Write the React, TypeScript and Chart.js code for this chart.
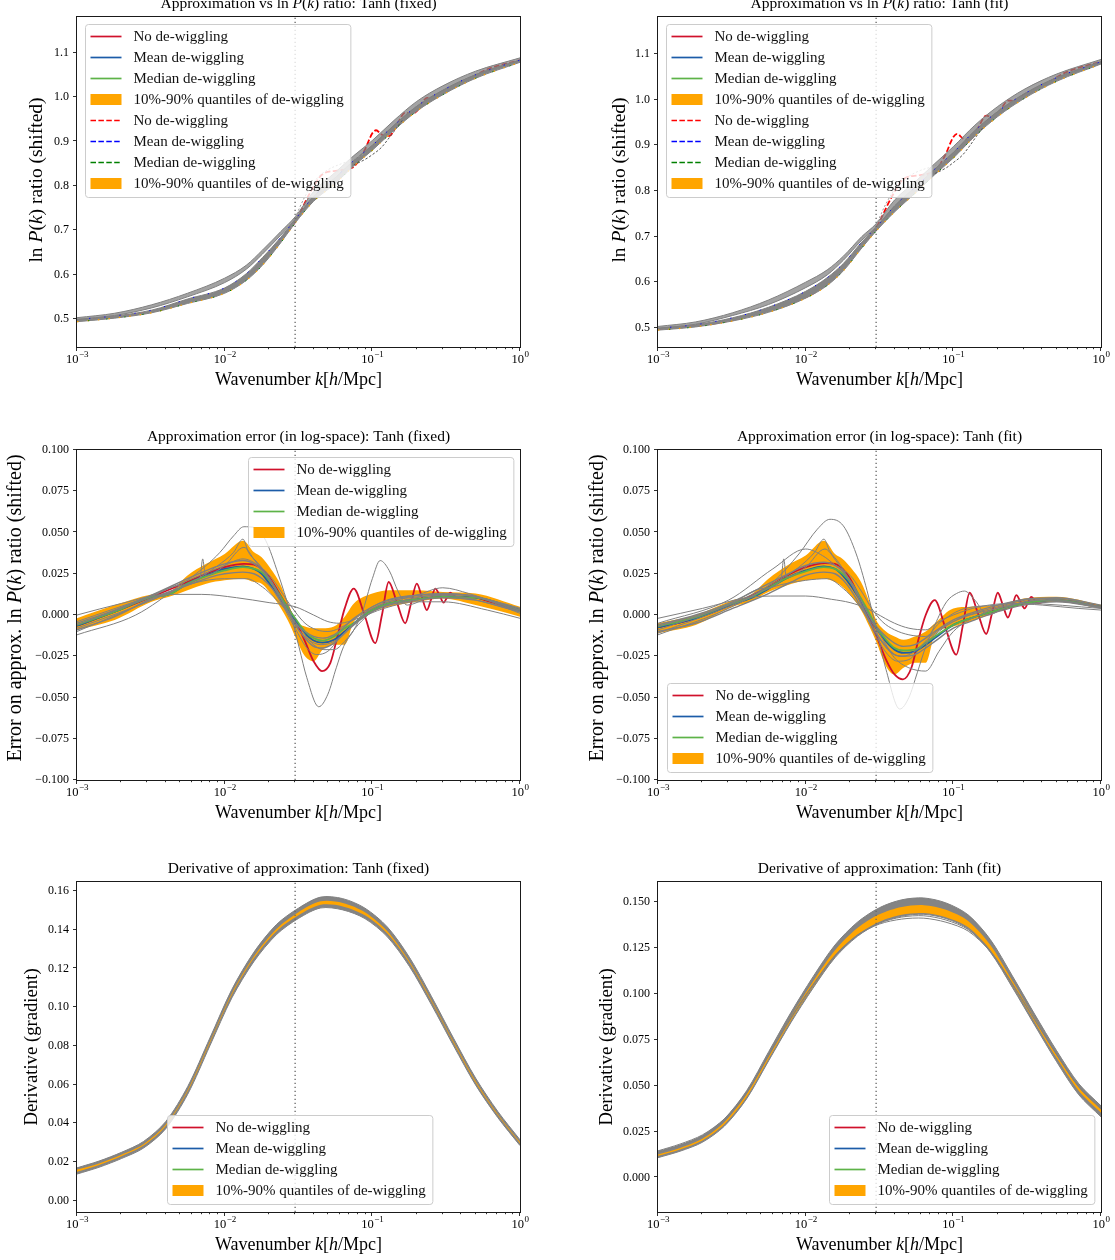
import React, { useEffect, useRef } from 'react';
import { Chart, registerables } from 'chart.js';

Chart.register(...registerables);

const FONT = '"Liberation Serif", "DejaVu Serif", "Times New Roman", serif';
const RED = '#d0112b';
const BLUE = '#1c5ca8';
const GREEN = '#5db348';
const ORANGE = '#ffa500';
const GRAY = '#808080';
const K_VLINE = 0.03;

// x-axis ticks
const X_MAJOR = [0.001, 0.01, 0.1, 1];
const X_MAJOR_EXP = ['\u22123', '\u22122', '\u22121', '0'];
const X_MINOR_MULT = [2, 3, 4, 5, 6, 7, 8, 9];

const LEGEND_LABELS = ['No de-wiggling', 'Mean de-wiggling', 'Median de-wiggling', '10%-90% quantiles of de-wiggling'];

type Pt = [number, number];

// ---------------- Row 1: ln P(k) ratio ----------------
const kRatio = [0.001, 0.0018, 0.0032, 0.0056, 0.01, 0.014, 0.018, 0.024, 0.03, 0.04, 0.056, 0.075, 0.1, 0.14, 0.2, 0.3, 0.5, 1.0];
const p1Lo = [0.494, 0.502, 0.514, 0.535, 0.558, 0.587, 0.621, 0.672, 0.716, 0.765, 0.805, 0.845, 0.880, 0.925, 0.968, 1.005, 1.042, 1.078];
const p1LoTop = [0.499, 0.507, 0.520, 0.545, 0.570, 0.602, 0.638, 0.684, 0.724, 0.776, 0.818, 0.857, 0.891, 0.936, 0.979, 1.015, 1.050, 1.083];
const p1HiBot = [0.499, 0.508, 0.525, 0.550, 0.582, 0.612, 0.646, 0.689, 0.724, 0.776, 0.818, 0.857, 0.891, 0.936, 0.979, 1.015, 1.050, 1.083];
const p1Hi = [0.503, 0.513, 0.532, 0.558, 0.592, 0.621, 0.655, 0.697, 0.730, 0.787, 0.830, 0.868, 0.902, 0.947, 0.990, 1.025, 1.058, 1.088];

const p2Lo = [0.495, 0.502, 0.515, 0.534, 0.565, 0.593, 0.625, 0.675, 0.712, 0.754, 0.797, 0.836, 0.872, 0.920, 0.963, 1.002, 1.040, 1.078];
const p2LoTop = [0.499, 0.507, 0.522, 0.545, 0.580, 0.610, 0.641, 0.688, 0.720, 0.767, 0.810, 0.848, 0.884, 0.932, 0.974, 1.012, 1.048, 1.083];
const p2HiBot = [0.499, 0.508, 0.527, 0.551, 0.588, 0.616, 0.648, 0.692, 0.720, 0.767, 0.810, 0.848, 0.884, 0.932, 0.974, 1.012, 1.048, 1.083];
const p2Hi = [0.503, 0.513, 0.533, 0.561, 0.600, 0.627, 0.657, 0.700, 0.728, 0.780, 0.822, 0.860, 0.897, 0.944, 0.985, 1.022, 1.056, 1.088];

const lnRatioData: Pt[] = [[0.001, 0.497], [0.0018, 0.5045], [0.0032, 0.517], [0.0056, 0.540], [0.01, 0.567], [0.014, 0.597], [0.018, 0.631], [0.024, 0.679], [0.03, 0.719], [0.038, 0.785], [0.046, 0.826], [0.058, 0.834], [0.068, 0.838], [0.075, 0.843], [0.088, 0.878], [0.1, 0.918], [0.106, 0.925], [0.116, 0.915], [0.13, 0.912], [0.147, 0.938], [0.167, 0.965], [0.183, 0.962], [0.2, 0.968], [0.216, 0.985], [0.234, 0.998], [0.26, 0.997], [0.3, 1.01], [0.337, 1.018], [0.4, 1.03], [0.6, 1.062], [1.0, 1.083]];

const p1GrayDashA: Pt[] = [[0.075, 0.847], [0.09, 0.860], [0.1, 0.870], [0.115, 0.886], [0.13, 0.908], [0.145, 0.929], [0.16, 0.948]];
const p1GrayDashB: Pt[] = [[0.03, 0.728], [0.035, 0.776], [0.042, 0.816], [0.05, 0.836], [0.06, 0.848], [0.075, 0.86], [0.09, 0.874]];
const p2GrayDashA: Pt[] = [[0.075, 0.838], [0.09, 0.851], [0.1, 0.862], [0.115, 0.878], [0.13, 0.900], [0.145, 0.922], [0.16, 0.94]];
const p2GrayDashB: Pt[] = [[0.03, 0.725], [0.035, 0.772], [0.042, 0.812], [0.05, 0.832], [0.06, 0.845], [0.075, 0.855], [0.09, 0.868]];

// ---------------- Row 2: approximation error ----------------
const kErr = [0.001, 0.0018, 0.0032, 0.0042, 0.0056, 0.0075, 0.01, 0.0133, 0.0158, 0.0178, 0.0205, 0.0237, 0.027, 0.03, 0.035, 0.04, 0.046, 0.055, 0.065, 0.075, 0.1, 0.13, 0.2, 0.3, 0.5, 1.0];

const p3OrangeLo = [-0.009, -0.003, 0.008, 0.011, 0.015, 0.019, 0.021, 0.022, 0.020, 0.019, 0.013, 0.005, -0.004, -0.013, -0.025, -0.028, -0.021, -0.018, -0.018, -0.004, 0.002, 0.005, 0.008, 0.010, 0.006, -0.001];
const p3OrangeHi = [-0.002, 0.006, 0.0125, 0.014, 0.024, 0.031, 0.037, 0.045, 0.038, 0.035, 0.028, 0.019, 0.007, -0.003, -0.007, -0.008, -0.008, -0.007, -0.001, 0.007, 0.013, 0.015, 0.015, 0.014, 0.013, 0.005];
const p3Blue = [-0.0065, 0.002, 0.011, 0.0125, 0.019, 0.024, 0.028, 0.0295, 0.028, 0.025, 0.018, 0.010, 0.003, -0.003, -0.011, -0.0155, -0.0168, -0.015, -0.010, -0.005, 0.003, 0.007, 0.0095, 0.011, 0.0105, 0.003];
const p3Green = [-0.006, 0.002, 0.011, 0.0125, 0.019, 0.0235, 0.027, 0.029, 0.028, 0.026, 0.020, 0.012, 0.004, -0.002, -0.010, -0.014, -0.0155, -0.013, -0.008, -0.005, 0.003, 0.007, 0.0095, 0.011, 0.0105, 0.003];
const p3Red: Pt[] = [[0.001, -0.0065], [0.0018, 0.002], [0.0032, 0.011], [0.0056, 0.02], [0.0075, 0.025], [0.01, 0.029], [0.0135, 0.031], [0.0158, 0.0305], [0.0178, 0.028], [0.02, 0.023], [0.025, 0.009], [0.03, -0.003], [0.035, -0.016], [0.04, -0.028], [0.0456, -0.034], [0.052, -0.029], [0.0584, -0.012], [0.065, 0.004], [0.0748, 0.016], [0.0885, 0.0], [0.1047, -0.017], [0.1162, 0.0], [0.129, 0.020], [0.1468, 0.0075], [0.167, -0.005], [0.1828, 0.007], [0.2, 0.019], [0.2163, 0.011], [0.234, 0.003], [0.25, 0.0095], [0.267, 0.016], [0.285, 0.012], [0.304, 0.0075], [0.32, 0.0105], [0.337, 0.0135], [0.355, 0.012], [0.374, 0.0105], [0.45, 0.0115], [0.6, 0.0085], [1.0, 0.003]];

const g3a: Pt[] = [[0.001, 0.0], [0.002, 0.007], [0.004, 0.0125], [0.007, 0.0125], [0.012, 0.0105], [0.02, 0.0075], [0.03, 0.005], [0.04, 0.0], [0.05, -0.004], [0.06, -0.005], [0.08, -0.002], [0.12, 0.004], [0.2, 0.008], [0.3, 0.008], [0.6, 0.003], [1.0, -0.002]];
const g3b: Pt[] = [[0.001, -0.012], [0.0025, 0.0], [0.005, 0.018], [0.0075, 0.03], [0.0093, 0.038], [0.0115, 0.048], [0.0135, 0.0535], [0.016, 0.053], [0.019, 0.045], [0.023, 0.025], [0.0279, 0.001], [0.032, -0.02], [0.036, -0.038], [0.0434, -0.0556], [0.05, -0.048], [0.057, -0.032], [0.064, -0.019], [0.075, -0.009], [0.085, 0.001], [0.1, 0.022], [0.113, 0.033], [0.13, 0.027], [0.15, 0.014], [0.172, 0.006], [0.22, 0.009], [0.3, 0.013], [0.5, 0.011], [1.0, 0.001]];
const g3c: Pt[] = [[0.001, -0.008], [0.003, 0.008], [0.006, 0.02], [0.009, 0.03], [0.0115, 0.038], [0.0133, 0.046], [0.0145, 0.038], [0.017, 0.031], [0.021, 0.02], [0.025, 0.007], [0.03, -0.006], [0.037, -0.015], [0.045, -0.018], [0.055, -0.016], [0.07, -0.008], [0.1, 0.005], [0.2, 0.012], [0.4, 0.0125], [1.0, 0.003]];
const g3d: Pt[] = [[0.001, -0.01], [0.003, 0.008], [0.006, 0.019], [0.01, 0.022], [0.014, 0.022], [0.018, 0.017], [0.022, 0.01], [0.026, 0.003], [0.03, -0.004], [0.035, -0.012], [0.04, -0.018], [0.047, -0.021], [0.055, -0.021], [0.065, -0.016], [0.08, -0.006], [0.1, 0.002], [0.15, 0.008], [0.3, 0.012], [1.0, 0.002]];
const g3e: Pt[] = [[0.001, -0.004], [0.003, 0.011], [0.006, 0.022], [0.01, 0.030], [0.0133, 0.034], [0.017, 0.030], [0.021, 0.022], [0.025, 0.012], [0.03, 0.002], [0.035, -0.005], [0.042, -0.009], [0.05, -0.01], [0.06, -0.008], [0.08, -0.001], [0.12, 0.007], [0.2, 0.012], [0.3, 0.0165], [0.45, 0.013], [0.7, 0.007], [1.0, 0.002]];
const g3g: Pt[] = [[0.001, -0.009], [0.0018, -0.001], [0.0032, 0.01], [0.0056, 0.018], [0.008, 0.023], [0.01, 0.025], [0.0133, 0.026], [0.0158, 0.025], [0.018, 0.022], [0.021, 0.016], [0.024, 0.008], [0.027, 0.001], [0.03, -0.006], [0.035, -0.014], [0.04, -0.019], [0.046, -0.02], [0.055, -0.017], [0.065, -0.011], [0.075, -0.006], [0.1, 0.002], [0.13, 0.006], [0.2, 0.009], [0.3, 0.0105], [0.5, 0.009], [1.0, 0.002]];
const g3h: Pt[] = [[0.001, -0.005], [0.0018, 0.003], [0.0032, 0.012], [0.0056, 0.022], [0.008, 0.028], [0.01, 0.031], [0.0133, 0.033], [0.0158, 0.031], [0.018, 0.027], [0.021, 0.019], [0.024, 0.010], [0.027, 0.002], [0.03, -0.005], [0.035, -0.010], [0.04, -0.013], [0.046, -0.014], [0.055, -0.012], [0.065, -0.007], [0.075, -0.002], [0.1, 0.005], [0.13, 0.009], [0.2, 0.012], [0.3, 0.013], [0.5, 0.011], [1.0, 0.004]];
const g3i: Pt[] = [[0.001, -0.006], [0.003, 0.01], [0.005, 0.018], [0.0068, 0.022], [0.0071, 0.034], [0.0074, 0.024], [0.01, 0.03], [0.0135, 0.041], [0.016, 0.033], [0.02, 0.022], [0.025, 0.005], [0.03, -0.008], [0.036, -0.02], [0.042, -0.024], [0.05, -0.022], [0.06, -0.014], [0.075, -0.005], [0.1, 0.004], [0.2, 0.011], [0.4, 0.012], [1.0, 0.003]];

const p4OrangeLo = [-0.011, -0.006, 0.005, 0.008, 0.014, 0.018, 0.021, 0.022, 0.020, 0.017, 0.011, 0.003, -0.007, -0.016, -0.031, -0.036, -0.032, -0.029, -0.029, -0.012, -0.007, -0.004, 0.002, 0.006, 0.008, 0.004];
const p4OrangeHi = [-0.005, 0.0, 0.009, 0.012, 0.022, 0.030, 0.036, 0.045, 0.037, 0.034, 0.028, 0.020, 0.008, -0.003, -0.010, -0.013, -0.015, -0.013, -0.010, -0.005, 0.004, 0.005, 0.006, 0.010, 0.011, 0.006];
const p4Blue = [-0.0075, -0.002, 0.0065, 0.010, 0.016, 0.0225, 0.027, 0.0295, 0.028, 0.024, 0.017, 0.008, -0.001, -0.008, -0.016, -0.021, -0.023, -0.022, -0.018, -0.014, -0.006, -0.002, 0.003, 0.007, 0.009, 0.005];
const p4Green = [-0.007, -0.0015, 0.007, 0.0105, 0.0165, 0.0225, 0.0265, 0.029, 0.028, 0.025, 0.019, 0.010, 0.001, -0.007, -0.015, -0.020, -0.0215, -0.021, -0.017, -0.013, -0.006, -0.002, 0.003, 0.007, 0.009, 0.005];
const p4Red: Pt[] = [[0.001, -0.0075], [0.0018, -0.002], [0.0032, 0.0065], [0.0056, 0.017], [0.0075, 0.024], [0.01, 0.029], [0.0135, 0.0315], [0.0158, 0.031], [0.0178, 0.028], [0.02, 0.022], [0.025, 0.004], [0.03, -0.012], [0.035, -0.027], [0.04, -0.036], [0.0456, -0.039], [0.052, -0.032], [0.0584, -0.014], [0.065, 0.0], [0.0748, 0.009], [0.0885, -0.008], [0.1047, -0.024], [0.1162, -0.006], [0.129, 0.0135], [0.1468, 0.001], [0.167, -0.0115], [0.1828, 0.001], [0.2, 0.0135], [0.2163, 0.006], [0.234, -0.0015], [0.25, 0.005], [0.267, 0.012], [0.285, 0.008], [0.304, 0.004], [0.32, 0.0075], [0.337, 0.011], [0.355, 0.009], [0.374, 0.007], [0.45, 0.0095], [0.6, 0.0085], [1.0, 0.005]];

const g4a: Pt[] = [[0.001, -0.002], [0.002, 0.004], [0.004, 0.0105], [0.0065, 0.0115], [0.01, 0.0115], [0.015, 0.0095], [0.02, 0.0075], [0.026, 0.004], [0.03, 0.001], [0.04, -0.005], [0.05, -0.008], [0.065, -0.009], [0.08, -0.004], [0.1, 0.0], [0.15, 0.005], [0.25, 0.007], [0.4, 0.006], [0.7, 0.004], [1.0, 0.003]];
const g4b: Pt[] = [[0.001, -0.012], [0.003, 0.004], [0.006, 0.02], [0.009, 0.037], [0.012, 0.052], [0.0146, 0.058], [0.018, 0.054], [0.022, 0.037], [0.026, 0.015], [0.03, -0.008], [0.035, -0.033], [0.0434, -0.057], [0.05, -0.05], [0.057, -0.035], [0.064, -0.021], [0.075, -0.006], [0.09, 0.008], [0.105, 0.013], [0.119, 0.0145], [0.14, 0.009], [0.17, 0.0], [0.22, 0.004], [0.3, 0.008], [0.5, 0.01], [1.0, 0.005]];
const g4c: Pt[] = [[0.001, -0.009], [0.003, 0.006], [0.006, 0.019], [0.009, 0.029], [0.0115, 0.038], [0.0133, 0.046], [0.0145, 0.039], [0.017, 0.031], [0.021, 0.017], [0.025, 0.003], [0.03, -0.011], [0.037, -0.022], [0.045, -0.025], [0.055, -0.022], [0.07, -0.013], [0.1, -0.004], [0.2, 0.005], [0.4, 0.01], [1.0, 0.005]];
const g4d: Pt[] = [[0.001, -0.011], [0.003, 0.005], [0.006, 0.017], [0.01, 0.021], [0.014, 0.022], [0.018, 0.016], [0.022, 0.008], [0.026, -0.001], [0.03, -0.008], [0.035, -0.018], [0.04, -0.026], [0.05, -0.032], [0.065, -0.034], [0.08, -0.022], [0.1, -0.01], [0.15, 0.0], [0.3, 0.007], [1.0, 0.004]];
const g4e: Pt[] = [[0.001, -0.005], [0.003, 0.009], [0.006, 0.028], [0.01, 0.040], [0.013, 0.036], [0.016, 0.03], [0.02, 0.024], [0.024, 0.014], [0.028, 0.004], [0.033, -0.004], [0.04, -0.009], [0.05, -0.012], [0.065, -0.013], [0.08, -0.005], [0.12, 0.004], [0.2, 0.006], [0.35, 0.01], [0.6, 0.008], [1.0, 0.004]];
const g4g: Pt[] = [[0.001, -0.010], [0.0018, -0.005], [0.0032, 0.004], [0.0056, 0.013], [0.008, 0.020], [0.01, 0.024], [0.0133, 0.026], [0.0158, 0.025], [0.018, 0.021], [0.021, 0.013], [0.024, 0.004], [0.027, -0.004], [0.03, -0.011], [0.035, -0.019], [0.04, -0.024], [0.046, -0.025], [0.055, -0.024], [0.065, -0.020], [0.075, -0.016], [0.1, -0.008], [0.13, -0.004], [0.2, 0.002], [0.3, 0.006], [0.5, 0.008], [1.0, 0.0045]];
const g4h: Pt[] = [[0.001, -0.006], [0.0018, 0.0], [0.0032, 0.008], [0.0056, 0.019], [0.008, 0.026], [0.01, 0.030], [0.0133, 0.032], [0.0158, 0.030], [0.018, 0.026], [0.021, 0.018], [0.024, 0.008], [0.027, -0.001], [0.03, -0.007], [0.035, -0.013], [0.04, -0.017], [0.046, -0.019], [0.055, -0.018], [0.065, -0.014], [0.075, -0.010], [0.1, -0.003], [0.13, 0.001], [0.2, 0.006], [0.3, 0.0095], [0.5, 0.0105], [1.0, 0.006]];
const g4i: Pt[] = [[0.001, -0.007], [0.003, 0.006], [0.005, 0.016], [0.0068, 0.021], [0.0071, 0.034], [0.0074, 0.023], [0.01, 0.029], [0.0135, 0.040], [0.016, 0.033], [0.02, 0.02], [0.025, 0.002], [0.03, -0.013], [0.036, -0.024], [0.042, -0.028], [0.05, -0.027], [0.06, -0.02], [0.075, -0.012], [0.1, -0.004], [0.2, 0.004], [0.4, 0.009], [1.0, 0.005]];

// ---------------- Row 3: derivative ----------------
const kDer = [0.001, 0.00141, 0.002, 0.00282, 0.00398, 0.00562, 0.00794, 0.0112, 0.0158, 0.0224, 0.0316, 0.0447, 0.0631, 0.0891, 0.126, 0.178, 0.251, 0.355, 0.501, 0.708, 1.0];
const p5Center = [0.0155, 0.0190, 0.0235, 0.0290, 0.0390, 0.0570, 0.0820, 0.1070, 0.1260, 0.1400, 0.1485, 0.1540, 0.1532, 0.1485, 0.1390, 0.1235, 0.1035, 0.0820, 0.0615, 0.0445, 0.0300];
const p5Upper = [0.0170, 0.0205, 0.0250, 0.0306, 0.0408, 0.0590, 0.0840, 0.1092, 0.1284, 0.1426, 0.1511, 0.1568, 0.1560, 0.1511, 0.1415, 0.1258, 0.1056, 0.0839, 0.0633, 0.0461, 0.0315];
const p5Lower = [0.0138, 0.0173, 0.0218, 0.0272, 0.0371, 0.0550, 0.0800, 0.1048, 0.1236, 0.1374, 0.1458, 0.1512, 0.1502, 0.1457, 0.1364, 0.1211, 0.1013, 0.0800, 0.0597, 0.0429, 0.0285];
const p5OrLo = [0.0150, 0.0185, 0.0230, 0.0285, 0.0385, 0.0565, 0.0815, 0.1064, 0.1253, 0.1391, 0.1474, 0.1528, 0.1520, 0.1474, 0.1381, 0.1229, 0.1030, 0.0815, 0.0610, 0.0441, 0.0296];
const p5OrHi = [0.0161, 0.0193, 0.0238, 0.0292, 0.0392, 0.0572, 0.0822, 0.1072, 0.1262, 0.1403, 0.1490, 0.1546, 0.1538, 0.1490, 0.1393, 0.1237, 0.1037, 0.0822, 0.0617, 0.0447, 0.0303];

const p6Center = [0.0125, 0.0160, 0.0210, 0.0300, 0.0450, 0.0660, 0.0870, 0.1060, 0.1230, 0.1350, 0.1425, 0.1465, 0.1475, 0.1450, 0.1390, 0.1260, 0.1065, 0.0860, 0.0660, 0.0480, 0.0360];
const p6Upper = [0.0142, 0.0177, 0.0228, 0.0320, 0.0472, 0.0685, 0.0898, 0.1092, 0.1266, 0.1390, 0.1469, 0.1512, 0.1522, 0.1495, 0.1430, 0.1296, 0.1098, 0.0890, 0.0690, 0.0510, 0.0390];
const p6Lower = [0.0108, 0.0143, 0.0192, 0.0280, 0.0428, 0.0636, 0.0843, 0.1030, 0.1197, 0.1313, 0.1385, 0.1423, 0.1433, 0.1410, 0.1354, 0.1227, 0.1035, 0.0830, 0.0630, 0.0450, 0.0330];
const p6OrLo = [0.0118, 0.0153, 0.0202, 0.0290, 0.0438, 0.0646, 0.0853, 0.1040, 0.1206, 0.1322, 0.1393, 0.1431, 0.1440, 0.1417, 0.1362, 0.1238, 0.1048, 0.0847, 0.0650, 0.0471, 0.0352];
const p6OrHi = [0.0125, 0.0161, 0.0211, 0.0302, 0.0453, 0.0664, 0.0875, 0.1066, 0.1237, 0.1358, 0.1433, 0.1473, 0.1483, 0.1458, 0.1397, 0.1266, 0.1071, 0.0867, 0.0668, 0.0490, 0.0372];
const p6LowA = [0.0145, 0.0182, 0.0232, 0.0320, 0.0465, 0.0668, 0.0870, 0.1050, 0.1210, 0.1320, 0.1380, 0.1407, 0.1412, 0.1390, 0.1342, 0.1230, 0.1053, 0.0860, 0.0670, 0.0495, 0.0375];
const p6LowB = [0.0137, 0.0174, 0.0224, 0.0312, 0.0458, 0.0663, 0.0865, 0.1046, 0.1206, 0.1318, 0.1385, 0.1418, 0.1425, 0.1402, 0.1350, 0.1234, 0.1055, 0.0860, 0.0668, 0.0492, 0.0372];

// ---------------- helpers ----------------
const zip = (k: number[], v: number[]) => k.map((x, i) => ({ x, y: v[i] }));
const pts = (a: Pt[]) => a.map(([x, y]) => ({ x, y }));
const NONE = 'rgba(0,0,0,0)';
const SMOOTH = { cubicInterpolationMode: 'default', tension: 0.3 };

const L = (data: any[], color: string, width: number, extra: any = {}) => ({ data, borderColor: color, borderWidth: width, fill: false, pointRadius: 0, ...extra });
const B = (lo: any[], hi: any[], fillColor: string, edge: string = NONE, edgeW = 1, extra: any = {}) => [
  { data: lo, borderColor: edge, borderWidth: edgeW, fill: false, pointRadius: 0, ...extra },
  { data: hi, borderColor: edge, borderWidth: edgeW, backgroundColor: fillColor, fill: '-1', pointRadius: 0, ...extra },
];
const VL = (y0: number, y1: number) => ({ data: [{ x: K_VLINE, y: y0 }, { x: K_VLINE, y: y1 }], borderColor: '#666', borderWidth: 1.3, borderDash: [1.3, 2.7], cubicInterpolationMode: 'default', tension: 0, fill: false, pointRadius: 0 });

type Seg = [string, boolean];
type LegendItem = { label: string; color: string; kind: 'line' | 'dash' | 'box' };
interface Spec {
  id: string; left: number; top: number;
  yMin: number; yMax: number; yStep: number; yFmt: (v: number) => string;
  title: Seg[]; ylabel: Seg[]; ylabelDx: number; ylabelDy: number; ylabelSize: number;
  legend: LegendItem[]; anchor: 'ul' | 'ur' | 'll' | 'lc' | 'lr';
  datasets: any[];
}

const XLABEL: Seg[] = [['Wavenumber ', false], ['k', true], ['[', false], ['h', true], ['/Mpc]', false]];
const YL_RATIO: Seg[] = [['ln ', false], ['P', true], ['(', false], ['k', true], [') ratio (shifted)', false]];
const YL_ERR: Seg[] = [['Error on approx. ln ', false], ['P', true], ['(', false], ['k', true], [') ratio (shifted)', false]];
const YL_DER: Seg[] = [['Derivative (gradient)', false]];
const titleRatio = (t: string): Seg[] => [['Approximation vs ln ', false], ['P', true], ['(', false], ['k', true], [') ratio: Tanh (' + t + ')', false]];

const LEG4: LegendItem[] = [
  { label: LEGEND_LABELS[0], color: RED, kind: 'line' },
  { label: LEGEND_LABELS[1], color: BLUE, kind: 'line' },
  { label: LEGEND_LABELS[2], color: GREEN, kind: 'line' },
  { label: LEGEND_LABELS[3], color: ORANGE, kind: 'box' },
];
const LEG8: LegendItem[] = [
  ...LEG4,
  { label: LEGEND_LABELS[0], color: '#ff0000', kind: 'dash' },
  { label: LEGEND_LABELS[1], color: '#0000ff', kind: 'dash' },
  { label: LEGEND_LABELS[2], color: '#008000', kind: 'dash' },
  { label: LEGEND_LABELS[3], color: ORANGE, kind: 'box' },
];

const minus = (s: string) => s.replace('-', '\u2212');

function ratioDatasets(lo: number[], loTop: number[], hiBot: number[], hi: number[], dashA: Pt[], dashB: Pt[], yMin: number, yMax: number) {
  return [
    L(pts(lnRatioData), '#ff0000', 1.8, { borderDash: [5.5, 2.4] }),
    ...B(zip(kRatio, lo), zip(kRatio, loTop), '#858585', GRAY, 1),
    ...B(zip(kRatio, hiBot), zip(kRatio, hi), 'rgba(128,128,128,0.72)', GRAY, 1),
    L(pts(dashA), '#555', 1, { borderDash: [2.5, 1.8] }),
    L(pts(dashB), '#999', 1, { borderDash: [2, 2] }),
    L(zip(kRatio, lo), ORANGE, 1.2, { borderDash: [1.5, 9] }),
    L(zip(kRatio, loTop), '#0000ff', 1, { borderDash: [1.2, 14], borderDashOffset: 3 }),
    L(zip(kRatio, lo), '#008000', 1, { borderDash: [1.2, 17], borderDashOffset: 7 }),
    VL(yMin, yMax),
  ];
}

function errDatasets(orLo: number[], orHi: number[], red: Pt[], blue: number[], green: number[], grays: Pt[][], bundles: Pt[][]) {
  return [
    ...B(zip(kErr, orLo), zip(kErr, orHi), ORANGE),
    L(pts(red), RED, 1.8),
    L(zip(kErr, blue), BLUE, 1.8),
    L(zip(kErr, green), GREEN, 1.8),
    ...bundles.map((g) => L(pts(g), GRAY, 1.4)),
    ...grays.map((g) => L(pts(g), GRAY, 1)),
    VL(-0.1, 0.1),
  ];
}

function derDatasets(center: number[], lower: number[], upper: number[], orLo: number[], orHi: number[], extra: number[][], yMin: number, yMax: number) {
  return [
    L(zip(kDer, center), RED, 1.6, SMOOTH),
    L(zip(kDer, center), BLUE, 1.6, SMOOTH),
    L(zip(kDer, center), GREEN, 1.6, SMOOTH),
    ...B(zip(kDer, lower), zip(kDer, upper), '#848484', GRAY, 1, SMOOTH),
    ...B(zip(kDer, orLo), zip(kDer, orHi), ORANGE, NONE, 1, SMOOTH),
    ...extra.map((e) => L(zip(kDer, e), GRAY, 1, SMOOTH)),
    VL(yMin, yMax),
  ];
}

const SPECS: Spec[] = [
  {
    id: 'p1', left: 77, top: 17, yMin: 0.437, yMax: 1.18, yStep: 0.1, yFmt: (v) => v.toFixed(1),
    title: titleRatio('fixed'), ylabel: YL_RATIO, ylabelDx: -40, ylabelDy: -2, ylabelSize: 19.5, legend: LEG8, anchor: 'ul',
    datasets: ratioDatasets(p1Lo, p1LoTop, p1HiBot, p1Hi, p1GrayDashA, p1GrayDashB, 0.437, 1.18),
  },
  {
    id: 'p2', left: 658, top: 17, yMin: 0.458, yMax: 1.181, yStep: 0.1, yFmt: (v) => v.toFixed(1),
    title: titleRatio('fit'), ylabel: YL_RATIO, ylabelDx: -38, ylabelDy: -2, ylabelSize: 19.5, legend: LEG8, anchor: 'ul',
    datasets: ratioDatasets(p2Lo, p2LoTop, p2HiBot, p2Hi, p2GrayDashA, p2GrayDashB, 0.458, 1.181),
  },
  {
    id: 'p3', left: 77, top: 450, yMin: -0.1, yMax: 0.1, yStep: 0.025, yFmt: (v) => minus(v.toFixed(3)),
    title: [['Approximation error (in log-space): Tanh (fixed)', false]], ylabel: YL_ERR, ylabelDx: -61, ylabelDy: -7, ylabelSize: 20, legend: LEG4, anchor: 'ur',
    datasets: errDatasets(p3OrangeLo, p3OrangeHi, p3Red, p3Blue, p3Green, [g3a, g3b, g3c, g3d, g3e, g3i], [g3g, g3h]),
  },
  {
    id: 'p4', left: 658, top: 450, yMin: -0.1, yMax: 0.1, yStep: 0.025, yFmt: (v) => minus(v.toFixed(3)),
    title: [['Approximation error (in log-space): Tanh (fit)', false]], ylabel: YL_ERR, ylabelDx: -60, ylabelDy: -7, ylabelSize: 20, legend: LEG4, anchor: 'll',
    datasets: errDatasets(p4OrangeLo, p4OrangeHi, p4Red, p4Blue, p4Green, [g4a, g4b, g4c, g4d, g4e, g4i], [g4g, g4h]),
  },
  {
    id: 'p5', left: 77, top: 882, yMin: -0.0058, yMax: 0.1646, yStep: 0.02, yFmt: (v) => v.toFixed(2),
    title: [['Derivative of approximation: Tanh (fixed)', false]], ylabel: YL_DER, ylabelDx: -45, ylabelDy: 0, ylabelSize: 18.7, legend: LEG4, anchor: 'lc',
    datasets: derDatasets(p5Center, p5Lower, p5Upper, p5OrLo, p5OrHi, [], -0.0058, 0.1646),
  },
  {
    id: 'p6', left: 658, top: 882, yMin: -0.0188, yMax: 0.1609, yStep: 0.025, yFmt: (v) => v.toFixed(3),
    title: [['Derivative of approximation: Tanh (fit)', false]], ylabel: YL_DER, ylabelDx: -51, ylabelDy: 0, ylabelSize: 18.7, legend: LEG4, anchor: 'lr',
    datasets: derDatasets(p6Center, p6Lower, p6Upper, p6OrLo, p6OrHi, [p6LowA, p6LowB], -0.0188, 0.1609),
  },
];

// ---------------- drawing helpers ----------------
function drawSegs(ctx: CanvasRenderingContext2D, segs: Seg[], cx: number, cy: number, size: number, rot = 0) {
  ctx.save();
  ctx.translate(cx, cy);
  if (rot) ctx.rotate(rot);
  const fonts = segs.map(([, it]) => `${it ? 'italic ' : ''}${size}px ${FONT}`);
  let total = 0;
  const ws = segs.map(([t], i) => {
    ctx.font = fonts[i];
    const w = ctx.measureText(t).width;
    total += w;
    return w;
  });
  let x = -total / 2;
  ctx.textBaseline = 'middle';
  ctx.textAlign = 'left';
  ctx.fillStyle = '#000';
  segs.forEach(([t], i) => {
    ctx.font = fonts[i];
    ctx.fillText(t, x, 0);
    x += ws[i];
  });
  ctx.restore();
}

function roundRectPath(ctx: CanvasRenderingContext2D, x: number, y: number, w: number, h: number, r: number) {
  ctx.beginPath();
  ctx.moveTo(x + r, y);
  ctx.lineTo(x + w - r, y);
  ctx.arcTo(x + w, y, x + w, y + r, r);
  ctx.lineTo(x + w, y + h - r);
  ctx.arcTo(x + w, y + h, x + w - r, y + h, r);
  ctx.lineTo(x + r, y + h);
  ctx.arcTo(x, y + h, x, y + h - r, r);
  ctx.lineTo(x, y + r);
  ctx.arcTo(x, y, x + r, y, r);
  ctx.closePath();
}

function drawLegend(ctx: CanvasRenderingContext2D, a: any, items: LegendItem[], anchor: string) {
  const fs = 15;
  const font = `${fs}px ${FONT}`;
  ctx.save();
  ctx.font = font;
  const tw = Math.max(...items.map((it) => ctx.measureText(it.label).width));
  const w = 5 + 31 + 12 + tw + 7;
  const h = 26 + 21 * (items.length - 1);
  let x0 = a.left + 8;
  let y0 = a.top + 7;
  if (anchor === 'ur') { x0 = a.right - 7 - w; y0 = a.top + 7; }
  if (anchor === 'll') { x0 = a.left + 9; y0 = a.bottom - 8 - h; }
  if (anchor === 'lc') { x0 = (a.left + a.right) / 2 + 1 - w / 2; y0 = a.bottom - 8 - h; }
  if (anchor === 'lr') { x0 = a.right - 7 - w; y0 = a.bottom - 8 - h; }
  x0 = Math.round(x0) + 0.5;
  y0 = Math.round(y0) + 0.5;
  roundRectPath(ctx, x0, y0, w, h, 3);
  ctx.fillStyle = 'rgba(255,255,255,0.8)';
  ctx.fill();
  ctx.strokeStyle = '#cccccc';
  ctx.lineWidth = 1;
  ctx.stroke();
  items.forEach((it, i) => {
    const cy = y0 + 12 + 21 * i;
    const hx = x0 + 5;
    if (it.kind === 'box') {
      ctx.fillStyle = it.color;
      ctx.fillRect(hx, cy - 5.5, 31, 11);
    } else {
      ctx.beginPath();
      ctx.setLineDash(it.kind === 'dash' ? [5.5, 2.4] : []);
      ctx.strokeStyle = it.color;
      ctx.lineWidth = 1.7;
      ctx.moveTo(hx, cy);
      ctx.lineTo(hx + 31, cy);
      ctx.stroke();
      ctx.setLineDash([]);
    }
    ctx.fillStyle = '#111';
    ctx.font = font;
    ctx.textBaseline = 'middle';
    ctx.textAlign = 'left';
    ctx.fillText(it.label, hx + 31 + 12, cy + 0.5);
  });
  ctx.restore();
}

function makeDecor(spec: Spec) {
  return {
    id: 'decor_' + spec.id,
    afterDatasetsDraw(chart: any) {
      const { ctx, chartArea: a } = chart;
      const xs = chart.scales.x;
      const ys = chart.scales.y;
      ctx.save();
      ctx.strokeStyle = '#1a1a1a';
      ctx.lineWidth = 1;
      ctx.strokeRect(a.left - 0.5, a.top - 0.5, a.right - a.left + 1, a.bottom - a.top + 1);
      ctx.lineWidth = 0.9;
      ctx.beginPath();
      X_MAJOR.forEach((m, i) => {
        const px = Math.round(xs.getPixelForValue(m)) - 0.5;
        ctx.moveTo(px, a.bottom);
        ctx.lineTo(px, a.bottom + 4);
        if (i < X_MAJOR.length - 1) {
          X_MINOR_MULT.forEach((f) => {
            const p = Math.round(xs.getPixelForValue(m * f)) - 0.5;
            ctx.moveTo(p, a.bottom);
            ctx.lineTo(p, a.bottom + 2.2);
          });
        }
      });
      ys.ticks.forEach((t: any) => {
        const py = Math.round(ys.getPixelForValue(t.value)) - 0.5;
        ctx.moveTo(a.left, py);
        ctx.lineTo(a.left - 4, py);
      });
      ctx.stroke();
      ctx.restore();
    },
    afterDraw(chart: any) {
      const { ctx, chartArea: a } = chart;
      const xs = chart.scales.x;
      ctx.save();
      ctx.fillStyle = '#000';
      ctx.textBaseline = 'middle';
      ctx.textAlign = 'left';
      X_MAJOR.forEach((m, i) => {
        const px = xs.getPixelForValue(m);
        ctx.font = `12.5px ${FONT}`;
        const w1 = ctx.measureText('10').width;
        ctx.font = `9px ${FONT}`;
        const w2 = ctx.measureText(X_MAJOR_EXP[i]).width;
        const x0 = px - (w1 + w2) / 2;
        ctx.font = `12.5px ${FONT}`;
        ctx.fillText('10', x0, a.bottom + 12.5);
        ctx.font = `9px ${FONT}`;
        ctx.fillText(X_MAJOR_EXP[i], x0 + w1 + 0.5, a.bottom + 8);
      });
      ctx.restore();
      const cx = (a.left + a.right) / 2;
      drawSegs(ctx, spec.title, cx, a.top - 13, 15.5);
      drawSegs(ctx, XLABEL, cx, a.bottom + 33, 18);
      drawSegs(ctx, spec.ylabel, a.left + spec.ylabelDx, (a.top + a.bottom) / 2 + spec.ylabelDy, spec.ylabelSize, -Math.PI / 2);
      drawLegend(ctx, a, spec.legend, spec.anchor);
    },
  };
}

function buildConfig(spec: Spec): any {
  const datasets = spec.datasets.map((d, i, arr) => ({ ...d, order: arr.length - i }));
  return {
    type: 'line',
    data: { datasets },
    options: {
      animation: false,
      responsive: false,
      maintainAspectRatio: false,
      devicePixelRatio: 1,
      events: [],
      layout: { padding: { left: 0, right: 14, top: 24, bottom: 0 } },
      elements: {
        point: { radius: 0, hoverRadius: 0 },
        line: { cubicInterpolationMode: 'monotone', borderJoinStyle: 'round', borderCapStyle: 'butt' },
      },
      plugins: { legend: { display: false }, tooltip: { enabled: false }, title: { display: false } },
      scales: {
        x: {
          type: 'logarithmic', min: 0.001, max: 1,
          afterFit: (s: any) => { s.height = 46; },
          grid: { display: false, drawTicks: true, tickLength: 4 },
          border: { display: false },
          ticks: { display: false, autoSkip: false },
        },
        y: {
          type: 'linear', min: spec.yMin, max: spec.yMax,
          afterFit: (s: any) => { s.width = 77; },
          grid: { display: false, drawTicks: true, tickLength: 4 },
          border: { display: false },
          ticks: {
            stepSize: spec.yStep, includeBounds: false, autoSkip: false, padding: 4, color: '#000',
            font: { family: FONT, size: 12 },
            callback: (v: any) => spec.yFmt(Number(v)),
          },
        },
      },
    },
    plugins: [makeDecor(spec)],
  };
}

function Panel({ spec }: { spec: Spec }) {
  const ref = useRef<HTMLCanvasElement>(null);
  useEffect(() => {
    const chart = new Chart(ref.current as HTMLCanvasElement, buildConfig(spec));
    return () => chart.destroy();
  }, [spec]);
  return (
    <canvas
      ref={ref}
      width={534}
      height={400}
      style={{ position: 'absolute', left: spec.left - 77, top: spec.top - 24, width: 534, height: 400 }}
    />
  );
}

export default function App() {
  return (
    <div style={{ position: 'absolute', left: 0, top: 0, width: 1115, height: 1260, overflow: 'hidden', background: '#fff' }}>
      {SPECS.map((s) => (
        <Panel key={s.id} spec={s} />
      ))}
    </div>
  );
}
